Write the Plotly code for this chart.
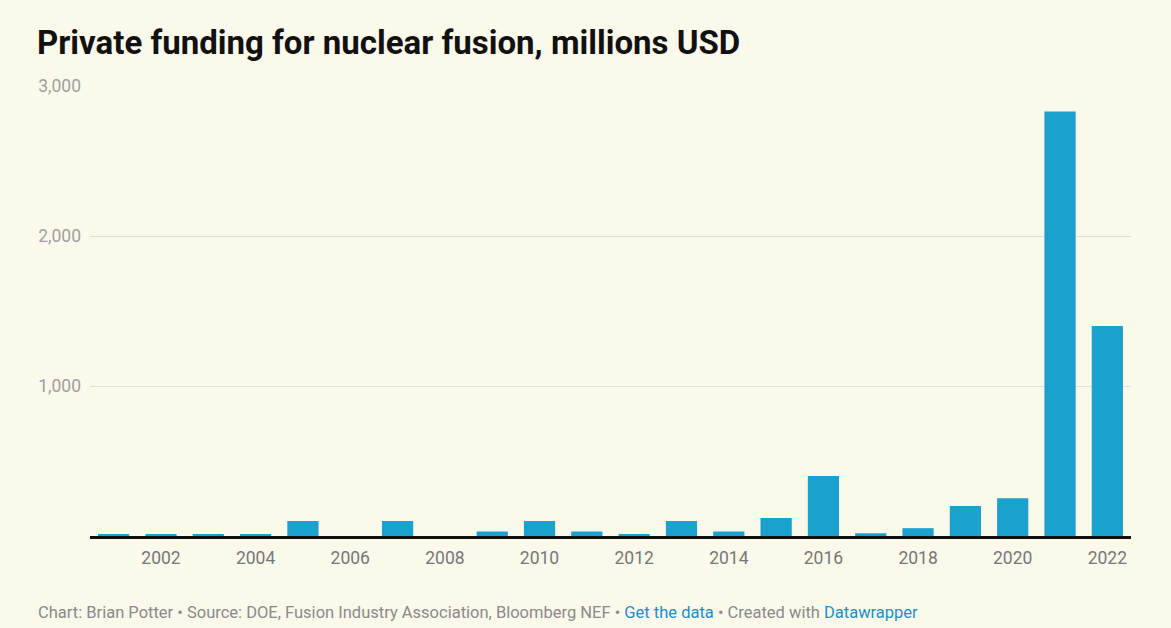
import plotly.graph_objects as go

years = list(range(2001, 2023))
funding = [10, 10, 10, 10, 100, 0, 100, 0, 30, 100, 30, 10, 100, 30, 120, 400, 18, 52, 200, 252, 2830, 1400]
y_ticks = [1000, 2000, 3000]
y_tick_labels = ["1,000", "2,000", "3,000"]
x_ticks = list(range(2002, 2023, 2))

W, H = 1171, 628
BG = "#fbf9ea"

fig = go.Figure()
fig.add_trace(go.Bar(x=years, y=funding, marker=dict(color="#1aa1cd", line=dict(width=0)),
                     hoverinfo="x+y"))

fig.update_layout(
    width=W, height=H,
    paper_bgcolor=BG, plot_bgcolor=BG,
    margin=dict(l=90, r=40, t=86, b=92, pad=0),
    bargap=0.34,
    showlegend=False,
    font=dict(family="Roboto, Arial, sans-serif"),
    title=dict(text="<b>Private funding for nuclear fusion, millions USD</b>",
               font=dict(size=33, color="#111111", family="Roboto, Arial, sans-serif"),
               xref="container", yref="container",
               x=37 / W, xanchor="left", y=1 - 42 / H, yanchor="middle"),
    xaxis=dict(range=[2000.5, 2022.5], tickvals=x_ticks, ticktext=[str(t) for t in x_ticks],
               showgrid=False, showline=True, linecolor="#111111", linewidth=3,
               ticks="", tickfont=dict(size=17.5, color="#777777"), ticklabelstandoff=4,
               zeroline=False, fixedrange=True),
    yaxis=dict(range=[0, 3000], tickvals=y_ticks, ticktext=y_tick_labels,
               showgrid=True, gridcolor="#e2e0d6", gridwidth=1,
               ticks="", tickfont=dict(size=17.5, color="#a0a0a0"), ticklabelstandoff=8,
               zeroline=False, showline=False, fixedrange=True),
    annotations=[dict(
        text=("Chart: Brian Potter • Source: DOE, Fusion Industry Association, Bloomberg NEF • "
              "<span style='color:#1a8fc8'>Get the data</span> • Created with "
              "<span style='color:#1a8fc8'>Datawrapper</span>"),
        xref="paper", yref="paper", x=-54 / (W - 130), xanchor="left",
        y=-(612 - 536) / (536 - 86), yanchor="middle", showarrow=False,
        font=dict(size=16.5, color="#8a8a8a", family="Roboto, Arial, sans-serif"))],
)

fig.write_html("out.html")
